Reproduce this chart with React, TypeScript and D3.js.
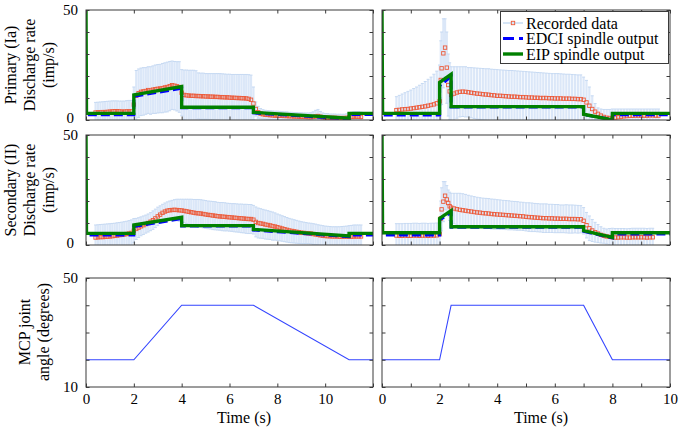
import { useEffect, useRef } from 'react';
import * as d3 from 'd3';

const FONT = '"Liberation Serif", "Times New Roman", serif';

// sample times of the recorded data (s)
const spikeTimes = [2.0, 2.04, 2.07, 2.13, 2.19, 2.25, 2.3, 2.35];
const timesSlow = d3.range(4, 116).map(i => i / 10);
const timesFastIa = [...d3.range(5, 20).map(i => i / 10), ...spikeTimes, ...d3.range(24, 97).map(i => i / 10)];
const timesFastII = [...d3.range(5, 20).map(i => i / 10), ...spikeTimes, ...d3.range(24, 95).map(i => i / 10)];

// primary (Ia), slow stretch
const iaSlowMean = [
  3.4, 3.5, 3.5, 3.6, 3.6, 3.7, 3.8, 3.9, 4.0, 4.0, 3.9, 3.8, 3.8, 3.9, 3.9, 3.9,
  7.0, 11.0, 12.2, 12.8, 13.0, 13.2, 13.6, 13.4, 13.8, 14.0,
  14.2, 14.3, 14.5, 14.8, 15.0, 15.4, 15.8, 15.6, 15.3, 15.0,
  12.4, 11.4, 11.2, 11.1, 11.0, 11.0, 10.9, 10.9, 10.8, 10.8,
  10.7, 10.7, 10.6, 10.6, 10.5, 10.5, 10.4, 10.4, 10.3, 10.3,
  10.2, 10.1, 10.1, 10.0, 10.0, 9.9, 9.9, 9.8, 9.6, 9.2,
  7.5, 5.0, 3.5, 2.9, 2.6, 2.4, 2.3, 2.2, 2.1, 2.0,
  2.0, 1.9, 1.9, 1.8, 1.8, 1.7, 1.7, 1.6, 1.6, 1.5,
  1.5, 1.4, 1.4, 1.3, 1.3, 1.4, 1.6, 1.8, 1.5, 1.2,
  1.1, 1.1, 1.0, 1.0, 1.0, 0.9, 0.9, 0.9, 0.9, 1.0,
  1.2, 1.4, 1.5, 1.5, 1.5, 1.4,
];
const iaSlowSd = [
  4.6, 4.6, 4.7, 4.7, 4.8, 4.8, 4.8, 4.8, 4.7, 4.7, 4.7, 4.8, 4.8, 4.9, 5.0, 5.0,
  8.0, 11.5, 11.0, 10.8, 10.8, 10.6, 10.6, 10.8, 10.8, 11.0,
  11.0, 11.0, 11.2, 11.2, 11.3, 11.2, 11.0, 11.0, 11.2, 11.5,
  10.5, 11.3, 11.5, 11.5, 11.6, 11.6, 11.5, 10.5, 10.5, 10.5,
  10.4, 10.4, 10.5, 10.5, 10.6, 10.6, 10.7, 10.6, 10.6, 10.5,
  10.6, 10.6, 10.6, 10.7, 10.7, 10.8, 10.8, 10.9, 11.0, 11.2,
  7.5, 3.2, 2.7, 2.3, 2.1, 2.0, 2.0, 2.0, 2.0, 2.0,
  2.0, 2.0, 1.9, 1.9, 1.9, 1.8, 1.8, 1.8, 1.8, 1.8,
  1.8, 1.8, 1.8, 1.9, 2.0, 2.3, 2.8, 3.0, 2.4, 2.0,
  1.8, 1.8, 1.7, 1.7, 1.7, 1.7, 1.7, 1.7, 1.7, 1.8,
  2.0, 2.2, 2.3, 2.3, 2.3, 2.2,
];

// primary (Ia), fast stretch
const iaFastMean = [
  4.5, 4.6, 4.8, 4.9, 5.0, 5.2, 5.4, 5.6, 5.8, 6.0, 6.2, 6.5, 6.8, 7.1, 7.6,
  8.5, 18.2, 23.5, 30.3, 32.9, 23.8, 15.9, 13.0,
  11.4, 12.0, 12.5, 12.8, 12.9, 12.8,
  12.6, 12.4, 12.2, 12.0, 11.9, 11.7, 11.6, 11.5, 11.3, 11.2,
  11.0, 11.0, 10.9, 10.8, 10.7, 10.6, 10.6, 10.5, 10.4, 10.4,
  10.3, 10.2, 10.2, 10.1, 10.1, 10.0, 10.0, 10.0, 9.9, 9.9,
  9.8, 9.8, 9.8, 9.7, 9.7, 9.7, 9.6, 9.6, 9.5, 9.5,
  9.2, 8.0, 6.5, 5.0, 3.8, 2.8, 2.0, 1.4, 1.0, 0.9,
  0.9, 1.1, 1.3, 1.5, 1.7, 1.8, 1.9, 1.9, 2.0, 2.0,
  2.0, 2.0, 2.0, 2.1, 2.1, 2.0, 2.0,
];
const iaFastSd = [
  6.1, 6.6, 7.0, 7.5, 8.0, 8.4, 8.9, 9.4, 10.0, 10.6, 11.3, 12.0, 12.7, 13.7, 14.6,
  16.5, 17.8, 16.5, 15.7, 13.1, 16.2, 14.1, 13.0,
  12.8, 12.2, 11.7, 11.4, 11.3, 11.4,
  11.2, 11.4, 11.5, 11.6, 11.6, 11.7, 11.7, 11.8, 11.8, 11.8,
  11.9, 11.8, 11.8, 11.8, 11.8, 11.9, 11.8, 11.8, 11.8, 11.7,
  11.7, 11.7, 11.6, 11.6, 11.5, 11.5, 11.4, 11.3, 11.3, 11.2,
  11.3, 11.3, 11.2, 11.2, 11.1, 11.1, 11.1, 11.0, 11.0, 11.0,
  10.3, 10.0, 8.5, 6.0, 3.7, 2.7, 3.0, 3.4, 3.8, 3.9,
  4.1, 3.9, 3.7, 3.5, 3.3, 3.2, 3.1, 3.1, 3.0, 3.0,
  3.0, 3.0, 3.0, 2.9, 2.9, 3.0, 3.0,
];

// secondary (II), slow stretch
const iiSlowMean = [
  3.4, 3.5, 3.6, 3.6, 3.7, 3.8, 3.9, 4.0, 4.2, 4.3, 4.5, 4.6, 4.8, 5.0, 5.2, 5.5,
  6.5, 7.3, 7.9, 8.5, 9.0, 9.5, 10.0, 10.6, 11.3, 12.1,
  13.0, 13.8, 14.6, 15.2, 15.6, 15.8, 15.9, 16.0, 15.9, 15.8,
  15.7, 15.5, 15.3, 15.1, 14.9, 14.7, 14.5, 14.4, 14.3, 14.1,
  13.9, 13.7, 13.6, 13.4, 13.3, 13.1, 13.0, 12.9, 12.8, 12.7,
  12.6, 12.5, 12.4, 12.3, 12.2, 12.1, 12.0, 11.9, 11.8, 11.8,
  11.5, 10.5, 10.0, 9.8, 9.6, 9.3, 9.1, 8.9, 8.6, 8.4,
  8.1, 7.8, 7.5, 7.2, 6.9, 6.6, 6.4, 6.2, 6.0, 5.8,
  5.6, 5.5, 5.4, 5.3, 5.2, 5.0, 4.8, 4.6, 4.4, 4.2,
  4.1, 4.0, 4.0, 3.9, 3.9, 3.9, 3.8, 3.8, 3.8, 3.8,
  3.8, 3.8, 3.9, 3.9, 3.9, 3.9,
];
const iiSlowSd = [
  5.7, 5.7, 5.7, 5.8, 5.8, 5.8, 5.8, 5.8, 5.7, 5.8, 5.7, 5.8, 5.8, 5.8, 5.9, 5.9,
  5.5, 4.8, 4.5, 4.3, 4.2, 4.1, 4.1, 4.1, 4.2, 4.2,
  4.2, 4.0, 3.9, 3.9, 4.0, 4.2, 4.4, 4.6, 4.9, 5.0,
  5.1, 5.3, 5.5, 5.7, 5.9, 6.0, 6.2, 6.3, 6.3, 6.3,
  6.3, 6.3, 6.3, 6.4, 6.4, 6.3, 6.3, 6.4, 6.4, 6.3,
  6.3, 6.3, 6.4, 6.4, 6.4, 6.5, 6.5, 6.6, 6.6, 6.6,
  6.5, 6.8, 6.8, 6.7, 6.6, 6.6, 6.5, 6.4, 6.4, 6.2,
  6.0, 5.9, 5.8, 5.7, 5.6, 5.5, 5.4, 5.3, 5.2, 5.1,
  5.0, 4.9, 4.8, 4.7, 4.7, 4.7, 4.7, 4.6, 4.6, 4.6,
  4.5, 4.5, 4.4, 4.4, 4.4, 4.4, 4.5, 4.6, 4.7, 4.8,
  5.0, 5.1, 5.2, 5.2, 5.2, 5.2,
];

// secondary (II), fast stretch
const iiFastMean = [
  4.3, 4.2, 4.2, 4.3, 4.2, 4.2, 4.3, 4.3, 4.2, 4.3, 4.3, 4.2, 4.3, 4.3, 4.4,
  5.0, 12.0, 16.2, 19.7, 22.4, 20.7, 19.1, 17.6,
  17.0, 16.6, 16.3, 16.0, 15.8, 15.6,
  15.4, 15.2, 15.0, 14.8, 14.7, 14.5, 14.4, 14.3, 14.1, 14.0,
  13.9, 13.8, 13.7, 13.6, 13.5, 13.4, 13.3, 13.2, 13.1, 13.0,
  12.8, 12.7, 12.6, 12.5, 12.4, 12.3, 12.2, 12.2, 12.1, 12.1,
  12.0, 12.0, 11.9, 11.9, 11.9, 11.8, 11.8, 11.8, 11.7, 11.7,
  11.0, 9.0, 7.6, 6.6, 5.8, 5.2, 4.6, 4.2, 3.9, 3.7,
  3.5, 3.4, 3.4, 3.5, 3.5, 3.4, 3.4, 3.5, 3.5, 3.5,
  3.5, 3.5, 3.4, 3.5, 3.5,
];
const iiFastSd = [
  5.4, 5.5, 5.5, 5.5, 5.6, 5.6, 5.6, 5.6, 5.6, 5.6, 5.6, 5.6, 5.6, 5.6, 5.6,
  6.0, 8.0, 9.8, 9.1, 6.4, 6.3, 5.9, 6.4,
  6.5, 6.9, 7.2, 7.5, 7.5, 7.4,
  7.2, 7.1, 7.0, 6.9, 6.8, 6.8, 6.8, 6.8, 6.8, 6.8,
  6.7, 6.7, 6.6, 6.6, 6.6, 6.5, 6.5, 6.5, 6.4, 6.4,
  6.4, 6.5, 6.5, 6.4, 6.4, 6.4, 6.5, 6.5, 6.4, 6.4,
  6.4, 6.4, 6.3, 6.3, 6.4, 6.4, 6.4, 6.3, 6.3, 6.2,
  6.0, 5.8, 5.6, 5.0, 4.5, 4.1, 3.7, 3.4, 3.4, 3.8,
  4.1, 4.1, 4.1, 4.0, 4.0, 4.0, 4.1, 4.1, 4.1, 4.1,
  4.1, 4.1, 4.1, 4.1, 4.1,
];

// model outputs (vertices of the piecewise traces)
const modelTimesSlow = [0, 0.02, 2, 2, 4, 4, 7, 7, 11, 11, 12];
const modelTimesFast = [0, 0.02, 2, 2, 2.4, 2.4, 7, 7, 8, 8, 10];
const eipIaSlow = [50, 3.0, 3.0, 11.4, 15.2, 5.8, 5.8, 3.5, 0.8, 3.0, 3.0];
const edciIaSlow = [13.6, 2.4, 2.4, 10.8, 14.4, 5.6, 5.6, 3.2, 0.5, 2.5, 2.5];
const eipIaFast = [50, 3.0, 3.0, 17.1, 20.8, 6.1, 6.1, 2.6, 0, 3.0, 3.0];
const edciIaFast = [13.6, 2.3, 2.3, 15.5, 19.8, 5.9, 5.9, 2.4, 0.2, 2.4, 2.4];
const eipIISlow = [50, 5.3, 5.3, 9.1, 12.6, 8.8, 8.8, 7.1, 4.1, 5.3, 5.3];
const edciIISlow = [9, 4.5, 4.5, 8.4, 12.0, 8.6, 8.6, 6.8, 3.8, 4.6, 4.6];
const eipIIFast = [50, 5.6, 5.6, 12.1, 15.6, 8.3, 8.3, 6.5, 3.5, 5.6, 5.6];
const edciIIFast = [9, 4.6, 4.6, 11.4, 15.0, 8.1, 8.1, 6.2, 3.2, 5.0, 5.0];

// MCP joint angle
const angleTimesSlow = [0, 2, 4, 7, 11, 12];
const angleTimesFast = [0, 2, 2.4, 7, 8, 10];
const angleSlow = [20, 20, 40, 40, 20, 20];
const angleFast = [20, 20, 40, 40, 20, 20];

const rateTicks = [0, 10, 20, 30, 40, 50];
const angleTicks = [10, 20, 30, 40, 50];
const timeTicksSlow = [0, 2, 4, 6, 8, 10, 12];
const timeTicksFast = d3.range(0, 11);
const timeLabels = [0, 2, 4, 6, 8, 10];
const legendLabels = ['Recorded data', 'EDCI spindle output', 'EIP spindle output'];

const GREEN = '#008000';
const BLUE = '#0000ff';
const RED = '#ec5a3a';
const ERR = '#dbe7f8';
const ERR_CAP = '#c6d9f2';
const AXIS = '#3a3a3a';

type Rec = { t: number[]; mean: number[]; sd: number[] };
type Trace = { t: number[]; v: number[]; kind: 'eip' | 'edci' | 'angle' };
type Panel = {
  cols: [number, number];
  rows: [number, number];
  xMax: number;
  xTicks: number[];
  xLabels: number[];
  yDomain: [number, number];
  yTicks: number[];
  yLabels: number[];
  rec?: Rec;
  traces: Trace[];
};

const L: [number, number] = [86, 373];
const R: [number, number] = [382, 670];
const ROW1: [number, number] = [10, 120];
const ROW2: [number, number] = [135, 245];
const ROW3: [number, number] = [278, 387];

const panels: Panel[] = [
  {
    cols: L, rows: ROW1, xMax: 12, xTicks: timeTicksSlow, xLabels: [], yDomain: [0, 50], yTicks: rateTicks, yLabels: [0, 50],
    rec: { t: timesSlow, mean: iaSlowMean, sd: iaSlowSd },
    traces: [{ t: modelTimesSlow, v: edciIaSlow, kind: 'edci' }, { t: modelTimesSlow, v: eipIaSlow, kind: 'eip' }],
  },
  {
    cols: R, rows: ROW1, xMax: 10, xTicks: timeTicksFast, xLabels: [], yDomain: [0, 50], yTicks: rateTicks, yLabels: [],
    rec: { t: timesFastIa, mean: iaFastMean, sd: iaFastSd },
    traces: [{ t: modelTimesFast, v: edciIaFast, kind: 'edci' }, { t: modelTimesFast, v: eipIaFast, kind: 'eip' }],
  },
  {
    cols: L, rows: ROW2, xMax: 12, xTicks: timeTicksSlow, xLabels: [], yDomain: [0, 50], yTicks: rateTicks, yLabels: [0, 50],
    rec: { t: timesSlow, mean: iiSlowMean, sd: iiSlowSd },
    traces: [{ t: modelTimesSlow, v: edciIISlow, kind: 'edci' }, { t: modelTimesSlow, v: eipIISlow, kind: 'eip' }],
  },
  {
    cols: R, rows: ROW2, xMax: 10, xTicks: timeTicksFast, xLabels: [], yDomain: [0, 50], yTicks: rateTicks, yLabels: [],
    rec: { t: timesFastII, mean: iiFastMean, sd: iiFastSd },
    traces: [{ t: modelTimesFast, v: edciIIFast, kind: 'edci' }, { t: modelTimesFast, v: eipIIFast, kind: 'eip' }],
  },
  {
    cols: L, rows: ROW3, xMax: 12, xTicks: timeTicksSlow, xLabels: timeLabels, yDomain: [10, 50], yTicks: angleTicks, yLabels: [10, 50],
    traces: [{ t: angleTimesSlow, v: angleSlow, kind: 'angle' }],
  },
  {
    cols: R, rows: ROW3, xMax: 10, xTicks: timeTicksFast, xLabels: timeLabels, yDomain: [10, 50], yTicks: angleTicks, yLabels: [],
    traces: [{ t: angleTimesFast, v: angleFast, kind: 'angle' }],
  },
];

const styleAxis = (g: d3.Selection<SVGGElement, unknown, null, undefined>) => {
  g.select('.domain').remove();
  g.attr('font-family', FONT).attr('font-size', 15);
  g.selectAll('line').attr('stroke', AXIS);
  g.selectAll('text').attr('fill', '#000');
};

function drawPanel(svg: d3.Selection<SVGSVGElement, unknown, null, undefined>, p: Panel, idx: number) {
  const [x0, x1] = p.cols;
  const [y0, y1] = p.rows;
  const x = d3.scaleLinear().domain([0, p.xMax]).range([x0, x1]);
  const y = d3.scaleLinear().domain(p.yDomain).range([y1, y0]);

  svg.append('clipPath').attr('id', `clip${idx}`)
    .append('rect').attr('x', x0).attr('y', y0).attr('width', x1 - x0).attr('height', y1 - y0);
  const plot = svg.append('g').attr('clip-path', `url(#clip${idx})`);

  if (p.rec) {
    const { t, mean, sd } = p.rec;
    const pts = t.map((ti, i) => ({ t: ti, m: mean[i], s: sd[i] }));
    const eb = plot.append('g');
    eb.selectAll('line.bar').data(pts).join('line').attr('class', 'bar')
      .attr('x1', d => x(d.t)).attr('x2', d => x(d.t))
      .attr('y1', d => y(d.m - d.s)).attr('y2', d => y(d.m + d.s))
      .attr('stroke', ERR).attr('stroke-width', 2.2);
    ['lo', 'hi'].forEach(end => {
      eb.selectAll(`line.cap-${end}`).data(pts).join('line').attr('class', `cap-${end}`)
        .attr('x1', d => x(d.t) - 1.5).attr('x2', d => x(d.t) + 1.5)
        .attr('y1', d => y(end === 'lo' ? d.m - d.s : d.m + d.s))
        .attr('y2', d => y(end === 'lo' ? d.m - d.s : d.m + d.s))
        .attr('stroke', ERR_CAP).attr('stroke-width', 1);
    });
    plot.append('g').selectAll('rect').data(pts).join('rect')
      .attr('x', d => x(d.t) - 1.7).attr('y', d => y(d.m) - 1.7)
      .attr('width', 3.4).attr('height', 3.4)
      .attr('fill', 'none').attr('stroke', RED).attr('stroke-width', 0.9);
  }

  const line = d3.line<[number, number]>().x(d => x(d[0])).y(d => y(d[1]));
  p.traces.forEach(tr => {
    const path = plot.append('path')
      .datum(tr.t.map((ti, i) => [ti, tr.v[i]] as [number, number]))
      .attr('fill', 'none').attr('d', line);
    if (tr.kind === 'eip') path.attr('stroke', GREEN).attr('stroke-width', 3.4);
    else if (tr.kind === 'edci') path.attr('stroke', BLUE).attr('stroke-width', 3).attr('stroke-dasharray', '9,4');
    else path.attr('stroke', '#3344ff').attr('stroke-width', 1.1);
  });

  const fmtX = (d: d3.NumberValue) => (p.xLabels.includes(+d) ? String(d) : '');
  const fmtY = (d: d3.NumberValue) => (p.yLabels.includes(+d) ? String(d) : '');

  svg.append('g').attr('transform', `translate(0,${y1})`)
    .call(d3.axisBottom(x).tickValues(p.xTicks).tickSizeInner(-3.5).tickSizeOuter(0).tickPadding(6).tickFormat(fmtX))
    .call(styleAxis);
  svg.append('g').attr('transform', `translate(0,${y0})`)
    .call(d3.axisTop(x).tickValues(p.xTicks).tickSizeInner(-3.5).tickSizeOuter(0).tickFormat(() => ''))
    .call(styleAxis);
  const left = svg.append('g').attr('transform', `translate(${x0},0)`)
    .call(d3.axisLeft(y).tickValues(p.yTicks).tickSizeInner(-3.5).tickSizeOuter(0).tickPadding(8).tickFormat(fmtY))
    .call(styleAxis);
  left.selectAll<SVGTextElement, number>('text').filter(d => d === 0).attr('dx', -4).attr('y', -2);
  svg.append('g').attr('transform', `translate(${x1},0)`)
    .call(d3.axisRight(y).tickValues(p.yTicks).tickSizeInner(-3.5).tickSizeOuter(0).tickFormat(() => ''))
    .call(styleAxis);

  svg.append('rect').attr('x', x0).attr('y', y0).attr('width', x1 - x0).attr('height', y1 - y0)
    .attr('fill', 'none').attr('stroke', AXIS).attr('stroke-width', 1);
}

function drawLegend(svg: d3.Selection<SVGSVGElement, unknown, null, undefined>) {
  const g = svg.append('g').attr('font-family', FONT).attr('font-size', 16);
  g.append('rect').attr('x', 500.5).attr('y', 11.5).attr('width', 168).attr('height', 52)
    .attr('fill', '#fff').attr('stroke', AXIS);
  const rowY = [23, 38.5, 54];
  legendLabels.forEach((label, i) => {
    const cy = rowY[i];
    if (i === 0) {
      g.append('line').attr('x1', 503).attr('x2', 523).attr('y1', cy).attr('y2', cy)
        .attr('stroke', '#c9dcf3').attr('stroke-width', 1.5);
      g.append('rect').attr('x', 511.3).attr('y', cy - 1.7).attr('width', 3.4).attr('height', 3.4)
        .attr('fill', 'none').attr('stroke', RED).attr('stroke-width', 0.9);
    } else if (i === 1) {
      g.append('line').attr('x1', 503).attr('x2', 523).attr('y1', cy).attr('y2', cy)
        .attr('stroke', BLUE).attr('stroke-width', 3).attr('stroke-dasharray', '11,5');
    } else {
      g.append('line').attr('x1', 503).attr('x2', 523).attr('y1', cy).attr('y2', cy)
        .attr('stroke', GREEN).attr('stroke-width', 3.4);
    }
    g.append('text').attr('x', 526).attr('y', cy + 5.5).text(label);
  });
}

function drawLabels(svg: d3.Selection<SVGSVGElement, unknown, null, undefined>) {
  const g = svg.append('g').attr('font-family', FONT).attr('font-size', 16).attr('text-anchor', 'middle');
  const ylabel = (lines: string[], xs: number[], cy: number) => {
    lines.forEach((s, i) => {
      g.append('text').attr('transform', `translate(${xs[i]},${cy}) rotate(-90)`).text(s);
    });
  };
  ylabel(['Primary (Ia)', 'Discharge rate', '(imp/s)'], [16, 35, 54], 65);
  ylabel(['Secondary (II)', 'Discharge rate', '(imp/s)'], [16, 35, 54], 190);
  ylabel(['MCP joint', 'angle (degrees)'], [30, 49], 332);
  g.append('text').attr('x', 244).attr('y', 423).text('Time (s)');
  g.append('text').attr('x', 541).attr('y', 423).text('Time (s)');
}

export default function App() {
  const ref = useRef<SVGSVGElement>(null);

  useEffect(() => {
    if (!ref.current) return;
    const svg = d3.select(ref.current);
    svg.selectAll('*').remove();
    panels.forEach((p, i) => drawPanel(svg, p, i));
    drawLegend(svg);
    drawLabels(svg);
  }, []);

  return (
    <svg
      ref={ref}
      width={680}
      height={428}
      style={{ position: 'absolute', left: 0, top: 0, background: '#fff' }}
    />
  );
}
